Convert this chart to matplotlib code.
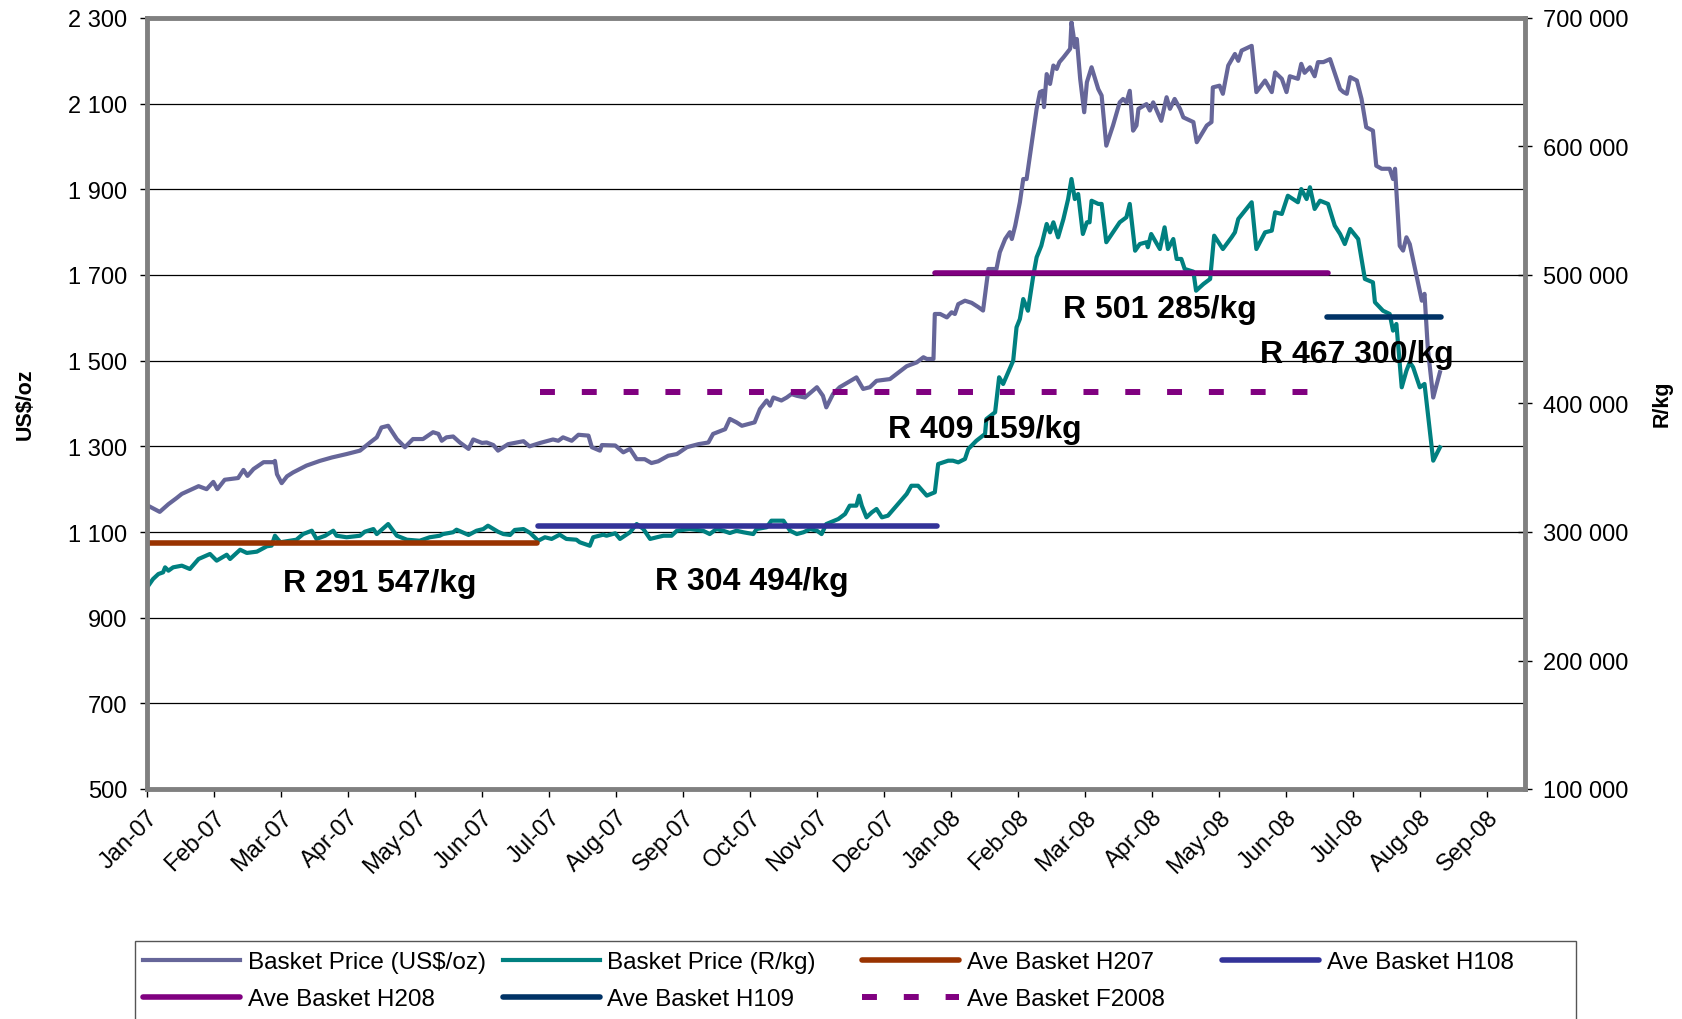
import matplotlib
matplotlib.use("Agg")
import matplotlib.pyplot as plt
from matplotlib.lines import Line2D
from matplotlib.patches import Rectangle
from matplotlib.ticker import FuncFormatter
from matplotlib.transforms import ScaledTranslation

plt.rcParams['font.family'] = ['Liberation Sans', 'DejaVu Sans']

months = ['Jan-07', 'Feb-07', 'Mar-07', 'Apr-07', 'May-07', 'Jun-07', 'Jul-07',
          'Aug-07', 'Sep-07', 'Oct-07', 'Nov-07', 'Dec-07', 'Jan-08', 'Feb-08',
          'Mar-08', 'Apr-08', 'May-08', 'Jun-08', 'Jul-08', 'Aug-08', 'Sep-08']
usd_ticks = [500, 700, 900, 1100, 1300, 1500, 1700, 1900, 2100, 2300]
zar_ticks = [100000, 200000, 300000, 400000, 500000, 600000, 700000]

# basket price in US$/oz (x = months since 1 Jan 2007)
usd_month = [0.02, 0.19, 0.32, 0.44, 0.52, 0.77, 0.89, 0.99, 1.05, 1.16,
             1.36, 1.44, 1.50, 1.59, 1.74, 1.89, 1.91, 1.94, 2.01, 2.09,
             2.18, 2.38, 2.58, 2.76, 2.98, 3.18, 3.33, 3.43, 3.50, 3.60,
             3.73, 3.85, 3.97, 4.12, 4.27, 4.35, 4.40, 4.47, 4.57, 4.67,
             4.80, 4.87, 5.00, 5.07, 5.17, 5.24, 5.39, 5.52, 5.62, 5.71,
             5.87, 6.06, 6.14, 6.21, 6.34, 6.44, 6.59, 6.64, 6.76, 6.79,
             6.99, 7.11, 7.21, 7.31, 7.43, 7.53, 7.63, 7.78, 7.91, 8.06,
             8.23, 8.38, 8.45, 8.63, 8.70, 8.80, 8.88, 9.07, 9.15, 9.25,
             9.30, 9.35, 9.47, 9.55, 9.62, 9.70, 9.82, 10.00, 10.09, 10.14,
             10.24, 10.34, 10.47, 10.59, 10.69, 10.79, 10.89, 11.09, 11.19, 11.34,
             11.49, 11.59, 11.64, 11.74, 11.76, 11.84, 11.94, 12.01, 12.06, 12.11,
             12.21, 12.31, 12.41, 12.48, 12.56, 12.68, 12.73, 12.81, 12.88, 12.91,
             12.96, 13.03, 13.08, 13.13, 13.18, 13.23, 13.28, 13.33, 13.37, 13.39,
             13.43, 13.48, 13.53, 13.58, 13.62, 13.68, 13.78, 13.80, 13.83, 13.85,
             13.88, 13.93, 13.99, 14.03, 14.10, 14.20, 14.25, 14.32, 14.42, 14.52,
             14.57, 14.62, 14.67, 14.72, 14.77, 14.80, 14.92, 14.97, 15.02, 15.14,
             15.22, 15.27, 15.34, 15.42, 15.47, 15.62, 15.67, 15.82, 15.89, 15.91,
             16.01, 16.06, 16.14, 16.24, 16.29, 16.34, 16.49, 16.56, 16.69, 16.79,
             16.84, 16.94, 17.01, 17.06, 17.18, 17.23, 17.28, 17.36, 17.43, 17.48,
             17.56, 17.66, 17.81, 17.86, 17.91, 17.96, 18.06, 18.13, 18.20, 18.30,
             18.35, 18.43, 18.55, 18.60, 18.63, 18.70, 18.75, 18.80, 18.85, 18.95,
             19.03, 19.07, 19.12, 19.20, 19.30]
usd_price = [1161, 1147, 1165, 1179, 1189, 1207, 1200, 1217, 1200, 1222,
             1226, 1245, 1231, 1247, 1263, 1263, 1266, 1235, 1214, 1230,
             1239, 1255, 1266, 1274, 1282, 1290, 1309, 1321, 1344, 1348,
             1317, 1298, 1317, 1317, 1333, 1329, 1313, 1321, 1323, 1309,
             1294, 1316, 1308, 1309, 1303, 1290, 1305, 1309, 1312, 1300,
             1308, 1316, 1313, 1321, 1313, 1327, 1325, 1298, 1290, 1303,
             1302, 1286, 1294, 1270, 1270, 1261, 1265, 1278, 1282, 1298,
             1305, 1309, 1329, 1340, 1364, 1356, 1348, 1356, 1387, 1407,
             1395, 1414, 1407, 1414, 1422, 1418, 1414, 1438, 1418, 1391,
             1422, 1438, 1450, 1461, 1434, 1438, 1453, 1457, 1469, 1487,
             1496, 1508, 1504, 1504, 1609, 1609, 1601, 1613, 1609, 1632,
             1640, 1635, 1625, 1617, 1714, 1714, 1753, 1784, 1800, 1784,
             1815, 1870, 1924, 1924, 1979, 2033, 2088, 2127, 2130, 2092,
             2169, 2146, 2189, 2181, 2197, 2208, 2228, 2290, 2259, 2232,
             2251, 2158, 2080, 2150, 2185, 2134, 2119, 2002, 2049, 2103,
             2111, 2103, 2130, 2037, 2049, 2088, 2099, 2084, 2103, 2060,
             2115, 2088, 2111, 2088, 2068, 2057, 2010, 2049, 2057, 2138,
             2142, 2123, 2189, 2216, 2200, 2224, 2235, 2127, 2154, 2127,
             2173, 2158, 2127, 2164, 2158, 2193, 2172, 2185, 2164, 2197,
             2197, 2204, 2134, 2127, 2123, 2162, 2154, 2111, 2045, 2037,
             1955, 1948, 1948, 1924, 1948, 1768, 1757, 1788, 1772, 1698,
             1640, 1656, 1527, 1414, 1473]

# basket price in R/kg, thousands
zar_month = [0.02, 0.09, 0.17, 0.24, 0.27, 0.32, 0.39, 0.52, 0.64, 0.77,
             0.94, 1.04, 1.19, 1.24, 1.39, 1.49, 1.56, 1.64, 1.79, 1.86,
             1.91, 1.99, 2.23, 2.33, 2.46, 2.53, 2.66, 2.78, 2.83, 2.98,
             3.18, 3.25, 3.38, 3.43, 3.60, 3.73, 3.88, 4.07, 4.22, 4.37,
             4.42, 4.57, 4.62, 4.80, 4.92, 5.02, 5.09, 5.24, 5.32, 5.42,
             5.49, 5.62, 5.72, 5.84, 5.94, 6.04, 6.16, 6.26, 6.41, 6.46,
             6.61, 6.66, 6.81, 6.86, 6.99, 7.06, 7.21, 7.31, 7.41, 7.51,
             7.61, 7.71, 7.83, 7.91, 8.10, 8.30, 8.40, 8.50, 8.60, 8.70,
             8.80, 8.90, 9.05, 9.10, 9.25, 9.32, 9.50, 9.60, 9.70, 9.80,
             9.90, 10.00, 10.07, 10.14, 10.32, 10.42, 10.49, 10.59, 10.63, 10.67,
             10.74, 10.82, 10.89, 10.97, 11.06, 11.19, 11.34, 11.41, 11.51, 11.64,
             11.76, 11.81, 11.96, 12.03, 12.11, 12.21, 12.26, 12.38, 12.51, 12.53,
             12.66, 12.72, 12.78, 12.93, 12.98, 13.03, 13.08, 13.15, 13.23, 13.28,
             13.35, 13.43, 13.48, 13.53, 13.60, 13.68, 13.75, 13.80, 13.85, 13.90,
             13.97, 14.03, 14.07, 14.10, 14.20, 14.25, 14.32, 14.42, 14.52, 14.62,
             14.67, 14.75, 14.82, 14.92, 14.94, 14.99, 15.12, 15.19, 15.24, 15.32,
             15.37, 15.44, 15.49, 15.62, 15.66, 15.77, 15.87, 15.93, 16.06, 16.19,
             16.24, 16.29, 16.49, 16.56, 16.69, 16.79, 16.84, 16.94, 17.03, 17.18,
             17.23, 17.31, 17.36, 17.43, 17.51, 17.63, 17.73, 17.81, 17.88, 17.96,
             18.08, 18.18, 18.30, 18.33, 18.45, 18.55, 18.60, 18.65, 18.73, 18.80,
             18.85, 18.90, 19.00, 19.07, 19.20, 19.30]
zar_price_k = [258.2, 263.4, 267.3, 268.6, 272.5, 269.9, 272.5, 273.8, 271.2, 279.0,
               282.9, 277.7, 282.3, 279.0, 286.2, 283.7, 284.2, 284.7, 288.9, 289.4,
               297.1, 292.0, 294.0, 298.4, 301.0, 294.6, 297.1, 301.0, 297.1, 295.9,
               297.1, 300.2, 302.3, 298.4, 306.2, 297.1, 294.0, 293.2, 295.9, 297.1,
               298.4, 299.8, 301.8, 297.7, 301.0, 302.3, 304.9, 300.2, 298.4, 297.7,
               301.6, 302.3, 299.2, 293.2, 295.9, 294.6, 297.9, 294.6, 294.0, 292.0,
               289.3, 295.9, 297.9, 297.1, 299.0, 294.6, 299.8, 306.2, 302.3, 294.6,
               295.9, 297.1, 297.1, 301.0, 302.3, 301.0, 298.4, 302.3, 301.0, 299.2,
               301.0, 299.8, 298.4, 302.3, 303.7, 308.8, 308.8, 301.0, 298.4, 299.8,
               302.3, 301.0, 298.4, 306.2, 310.1, 314.0, 320.5, 320.5, 328.3, 320.5,
               311.4, 315.3, 317.9, 311.4, 312.7, 320.5, 329.6, 336.0, 336.0, 328.3,
               330.9, 352.9, 355.5, 355.5, 354.2, 356.8, 364.6, 371.0, 376.3, 387.9,
               393.2, 420.4, 415.2, 433.3, 459.3, 465.8, 481.3, 472.2, 499.5, 513.8,
               522.8, 539.7, 533.2, 541.0, 529.3, 543.6, 559.1, 574.7, 559.1, 563.0,
               531.9, 541.0, 541.0, 557.8, 555.3, 555.3, 525.5, 533.2, 541.0, 544.9,
               555.3, 518.9, 524.1, 525.5, 521.6, 531.9, 520.2, 537.1, 520.2, 528.0,
               512.5, 512.5, 504.7, 502.6, 487.8, 493.0, 496.9, 530.6, 520.2, 529.3,
               533.2, 543.6, 556.6, 520.2, 533.2, 534.5, 548.8, 547.5, 561.7, 556.6,
               566.9, 559.1, 568.3, 551.4, 557.8, 555.3, 538.4, 531.9, 524.1, 535.8,
               528.0, 496.9, 494.3, 478.8, 472.2, 469.7, 456.7, 461.9, 412.6, 425.5,
               432.1, 428.2, 412.6, 415.2, 355.5, 365.9]
zar_price = [v * 1000 for v in zar_price_k]

# period averages (R/kg) and the span of months they cover
avg_names = ['Ave Basket H207', 'Ave Basket H108', 'Ave Basket H208',
             'Ave Basket H109', 'Ave Basket F2008']
avg_values = [291547, 304494, 501285, 467300, 409159]
avg_start = [0.0, 5.84, 11.76, 17.61, 5.86]
avg_end = [5.82, 11.79, 17.63, 19.31, 17.36]
avg_colors = ['#993300', '#333399', '#800080', '#003366', '#800080']

# where each average's caption sits (months, R/kg baseline)
label_x = [2.03, 7.58, 13.68, 16.61, 11.06]
label_y = [254100, 255700, 467100, 432100, 374000]

USD_COLOR = '#666699'
ZAR_COLOR = '#008080'


def spaced(v, pos):
    return f'{v:,.0f}'.replace(',', ' ')


fig = plt.figure(figsize=(16.82, 10.20), dpi=100)
ax = fig.add_axes([147 / 1682, 1 - 790 / 1020, 1378 / 1682, 771 / 1020])
ax2 = ax.twinx()

ax.plot(usd_month, usd_price, color=USD_COLOR, lw=3.0, solid_joinstyle='round')
ax2.plot(zar_month, zar_price, color=ZAR_COLOR, lw=3.0, solid_joinstyle='round')

handles = {}
for name, val, x0, x1, col in zip(avg_names, avg_values, avg_start, avg_end, avg_colors):
    if name.endswith('F2008'):
        ln, = ax2.plot([x0, x1], [val, val], color=col, lw=4.3,
                       linestyle=(0, (2.5, 4.5)), dash_capstyle='butt')
    else:
        ln, = ax2.plot([x0, x1], [val, val], color=col, lw=4.0,
                       solid_capstyle='round')
    handles[name] = ln

for val, lx, ly in zip(avg_values, label_x, label_y):
    txt = 'R ' + spaced(val, None) + '/kg'
    ax2.text(lx, ly, txt, fontsize=23, fontweight='bold', ha='left',
             va='baseline', zorder=10)

ax.set_xlim(0, 20.57)
ax.set_ylim(500, 2300)
ax2.set_ylim(100000, 700000)
ax.set_yticks(usd_ticks)
ax2.set_yticks(zar_ticks)
ax.yaxis.set_major_formatter(FuncFormatter(spaced))
ax2.yaxis.set_major_formatter(FuncFormatter(spaced))

ax.set_xticks(range(len(months)))
ax.set_xticklabels(months, rotation=45, ha='right', va='top', rotation_mode='anchor')
shift = ScaledTranslation(-11 / 100, -4 / 100, fig.dpi_scale_trans)
for lab in ax.get_xticklabels():
    lab.set_transform(lab.get_transform() + shift)

ax.yaxis.grid(True, color='black', lw=0.9)
ax.set_axisbelow(True)

ax.tick_params(axis='y', direction='out', length=5, width=1, labelsize=17, pad=9)
ax.tick_params(axis='x', direction='out', length=6, width=1, labelsize=17, pad=6)
ax2.tick_params(axis='y', direction='inout', length=10, width=1, labelsize=17, pad=8)

for s in ax.spines.values():
    s.set_visible(False)
for s in ax2.spines.values():
    s.set_color('#808080')
    s.set_linewidth(3.5)

fig.text(25 / 1682, 1 - 404 / 1020, 'US$/oz', rotation=90, ha='center',
         va='center', fontsize=15.5, fontweight='bold')
fig.text(1662 / 1682, 1 - 404 / 1020, 'R/kg', rotation=90, ha='center',
         va='center', fontsize=15.5, fontweight='bold')

# legend: four columns inside one box along the bottom
usd_handle = Line2D([], [], color=USD_COLOR, lw=3.0)
zar_handle = Line2D([], [], color=ZAR_COLOR, lw=3.0)
columns = [
    ([usd_handle, handles['Ave Basket H208']], ['Basket Price (US$/oz)', 'Ave Basket H208']),
    ([zar_handle, handles['Ave Basket H109']], ['Basket Price (R/kg)', 'Ave Basket H109']),
    ([handles['Ave Basket H207'], handles['Ave Basket F2008']], ['Ave Basket H207', 'Ave Basket F2008']),
    ([handles['Ave Basket H108']], ['Ave Basket H108']),
]
col_x = [143, 502.6, 862, 1222]
for (hs, labs), cx in zip(columns, col_x):
    fig.legend(hs, labs, loc='upper left', bbox_to_anchor=(cx / 1682, 1 - 952 / 1020),
               frameon=False, fontsize=17.5, handlelength=4.0, handletextpad=0.3,
               labelspacing=0.63, borderpad=0, borderaxespad=0)

fig.add_artist(Rectangle((135 / 1682, -0.05), (1576 - 135) / 1682, 0.05 + 1 - 942 / 1020,
                         transform=fig.transFigure, fill=False, edgecolor='#555555', lw=1))

fig.savefig('out.png', dpi=100)
